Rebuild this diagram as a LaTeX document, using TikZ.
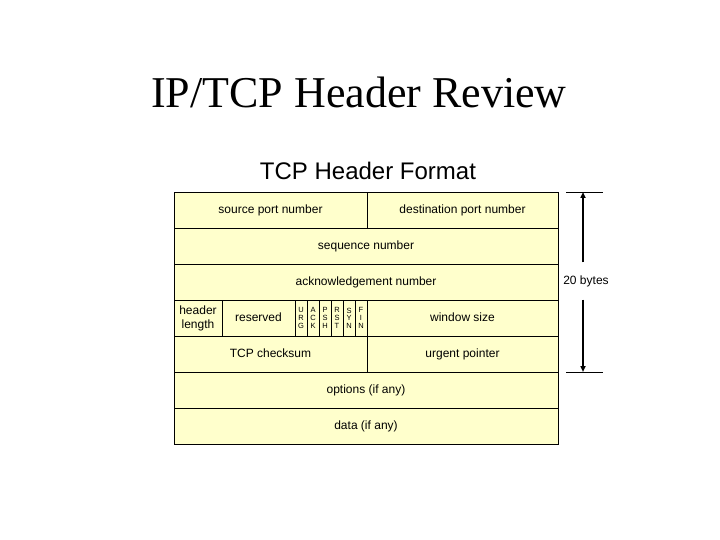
\documentclass[tikz,border=0pt]{standalone}
\usepackage{fontspec}
\setmainfont{Liberation Sans}
\newfontfamily\titlefont{Liberation Serif}
\usetikzlibrary{arrows.meta}
\definecolor{cellyellow}{RGB}{255,255,204}
\tikzset{
  cell/.style={draw=black, fill=cellyellow, line width=0.8pt, inner sep=0pt, outer sep=0pt,
    align=center, font=\fontsize{12}{14}\selectfont, anchor=north west, minimum height=36pt},
  onecell/.style={cell, text height=8.7pt, text depth=2.5pt},
  flag/.style={cell, minimum width=12pt, font=\fontsize{7.5}{7.6}\selectfont},
  dimtick/.style={line width=0.7pt},
  dimarrow/.style={line width=1.8pt, -{Triangle[length=6pt,width=5pt]}},
}
\begin{document}
\begin{tikzpicture}[x=1pt,y=-1pt]
\useasboundingbox (0,0) rectangle (720,540);
\node[font=\titlefont\fontsize{44}{50}\selectfont, anchor=base, inner sep=0pt] (title) at (359,108) {IP/TCP Header Review};
\node[font=\fontsize{24}{28}\selectfont, anchor=base, inner sep=0pt] (subtitle) at (368,180) {TCP Header Format};
% row 1
\node[onecell, minimum width=193pt] (src) at (174,192) {source port number};
\node[onecell, minimum width=191pt] (dst) at (367,192) {destination port number};
% rows 2-3
\node[onecell, minimum width=384pt] (seq) at (174,228) {sequence number};
\node[onecell, minimum width=384pt] (ack) at (174,264) {acknowledgement number};
% row 4
\node[cell, minimum width=48pt] (hlen) at (174,300) {header\\length};
\node[onecell, minimum width=73pt] (res) at (222,300) {reserved};
\node[flag] (furg) at (295,300) {U\\R\\G};
\node[flag] (fack) at (307,300) {A\\C\\K};
\node[flag] (fpsh) at (319,300) {P\\S\\H};
\node[flag] (frst) at (331,300) {R\\S\\T};
\node[flag] (fsyn) at (343,300) {S\\Y\\N};
\node[flag] (ffin) at (355,300) {F\\I\\N};
\node[onecell, minimum width=191pt] (win) at (367,300) {window size};
% row 5
\node[onecell, minimum width=193pt] (chk) at (174,336) {TCP checksum};
\node[onecell, minimum width=191pt] (urg) at (367,336) {urgent pointer};
% rows 6-7
\node[onecell, minimum width=384pt] (opt) at (174,372) {options (if any)};
\node[onecell, minimum width=384pt] (data) at (174,408) {data (if any)};
% dimension
\coordinate (dimtop) at (583,192);
\coordinate (dimbot) at (583,372);
\coordinate (tl) at (566,192);
\coordinate (tr) at (603,192);
\coordinate (bl) at (566,372);
\coordinate (br) at (603,372);
\draw[dimtick] (tl) -- (tr);
\draw[dimtick] (bl) -- (br);
\node[font=\fontsize{12}{14}\selectfont, minimum height=37pt, inner sep=0pt] (bytes) at (586,281) {20 bytes};
\draw[dimarrow] (bytes.north -| dimtop) -- (dimtop);
\draw[dimarrow] (bytes.south -| dimbot) -- (dimbot);
\end{tikzpicture}
\end{document}
